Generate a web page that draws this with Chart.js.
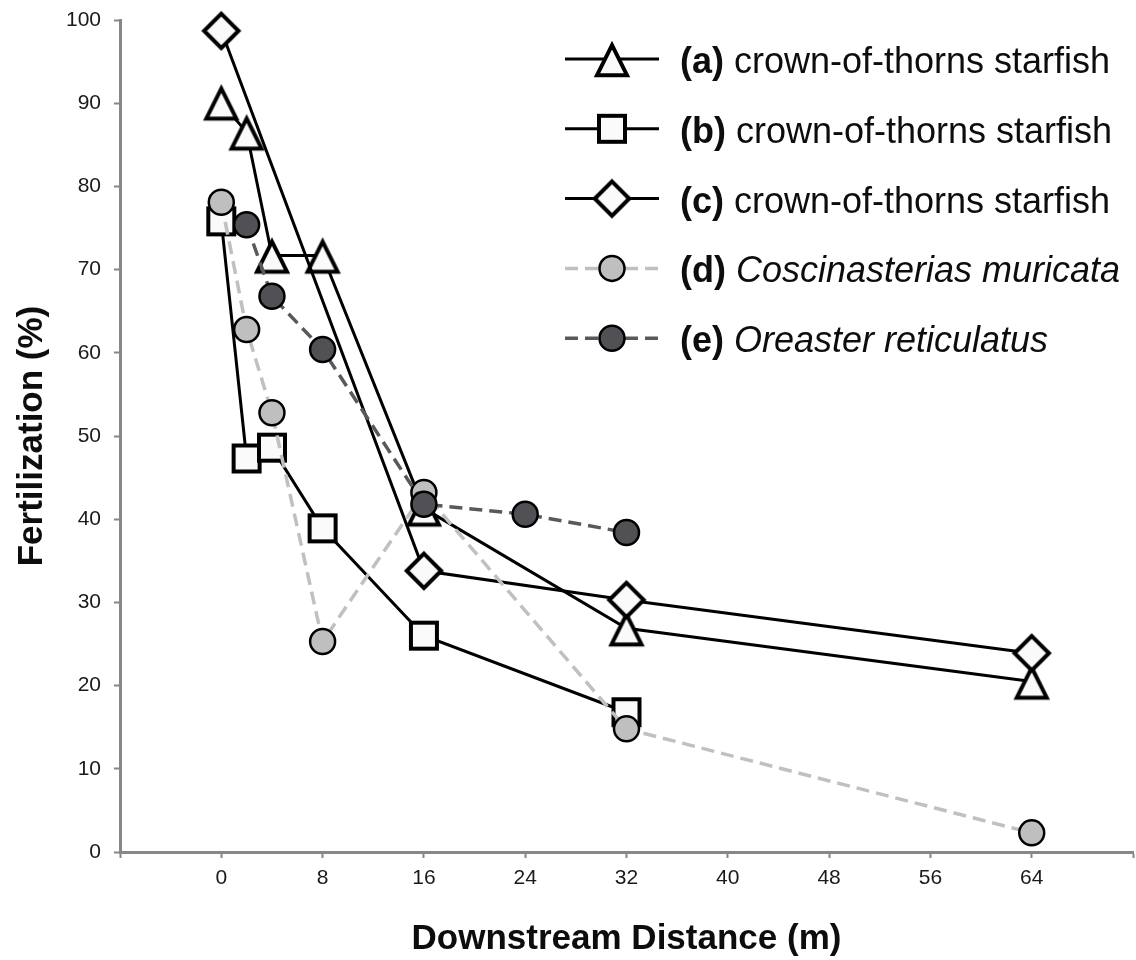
<!DOCTYPE html>
<html>
<head>
<meta charset="utf-8">
<title>Fertilization vs downstream distance</title>
<script src="https://cdn.jsdelivr.net/npm/chart.js@4.4.1/dist/chart.umd.min.js"></script>
<style>
  html, body { margin: 0; padding: 0; background: #ffffff; overflow: hidden; }
  #wrap { width: 1136px; height: 960px; }
  canvas { display: block; }
</style>
</head>
<body>
<div id="wrap"><canvas id="chart" width="1136" height="960"></canvas></div>
<script>
// Downstream distance (m) and fertilization (%) for each series
const distA = [0, 2, 4, 8, 16, 32, 64];
const fertA = [90.1, 86.5, 71.7, 71.7, 41.3, 26.9, 20.5];

const distB = [0, 2, 4, 8, 16, 32];
const fertB = [75.8, 47.3, 48.6, 38.9, 26.0, 16.8];

const distC = [0, 16, 32, 64];
const fertC = [98.7, 33.8, 30.3, 23.9];

const distD = [0, 2, 4, 8, 16, 32, 64];
const fertD = [78.1, 62.8, 52.8, 25.3, 43.2, 14.8, 2.3];

const distE = [2, 4, 8, 16, 24, 32];
const fertE = [75.4, 66.8, 60.4, 41.8, 40.6, 38.4];

// Series key text
const seriesTags  = ['(a)', '(b)', '(c)', '(d)', '(e)'];
const seriesNames = ['crown-of-thorns starfish', 'crown-of-thorns starfish', 'crown-of-thorns starfish',
                     'Coscinasterias muricata', 'Oreaster reticulatus'];

// Axis tick labels
const xTickLabels = [0, 8, 16, 24, 32, 40, 48, 56, 64];
const yTickLabels = [0, 10, 20, 30, 40, 50, 60, 70, 80, 90, 100];

const FONT = '"Liberation Sans", Arial, sans-serif';

function pairs(xs, ys) { return xs.map((x, i) => ({ x: x, y: ys[i] })); }

// Open markers with a heavy outline, drawn once and reused as point images
function makeMarker(kind) {
  const s = 48, c = document.createElement('canvas');
  c.width = s; c.height = s;
  const g = c.getContext('2d');
  const m = s / 2;
  g.lineWidth = 4;
  g.lineJoin = 'miter';
  g.strokeStyle = '#000000';
  g.fillStyle = '#fafafa';
  g.beginPath();
  if (kind === 'triangle') {
    g.moveTo(m, m - 13.8);
    g.lineTo(m + 15, m + 16.2);
    g.lineTo(m - 15, m + 16.2);
  } else if (kind === 'square') {
    g.rect(m - 13, m - 13, 26, 26);
  } else {
    const r = 17.2;
    g.moveTo(m, m - r);
    g.lineTo(m + r, m);
    g.lineTo(m, m + r);
    g.lineTo(m - r, m);
  }
  g.closePath();
  g.fill();
  g.stroke();
  return c;
}

const triMarker = makeMarker('triangle');
const sqMarker = makeMarker('square');
const diaMarker = makeMarker('diamond');

function solidSeries(xs, ys, marker, order, label) {
  return {
    label: label,
    data: pairs(xs, ys),
    borderColor: '#000000',
    borderWidth: 3,
    pointStyle: marker,
    pointRadius: 18,
    order: order,
    clip: false
  };
}

function dashedSeries(xs, ys, lineColor, fill, order, label) {
  return {
    label: label,
    data: pairs(xs, ys),
    borderColor: lineColor,
    borderWidth: 3.5,
    borderDash: [13, 7],
    pointStyle: 'circle',
    pointRadius: 12.5,
    pointBorderWidth: 2.5,
    pointBorderColor: '#000000',
    pointBackgroundColor: fill,
    italicName: true,
    order: order,
    clip: false
  };
}

const datasets = [
  solidSeries(distA, fertA, triMarker, 5, seriesTags[0] + ' ' + seriesNames[0]),
  solidSeries(distB, fertB, sqMarker, 4, seriesTags[1] + ' ' + seriesNames[1]),
  solidSeries(distC, fertC, diaMarker, 3, seriesTags[2] + ' ' + seriesNames[2]),
  dashedSeries(distD, fertD, '#c0c0c0', '#bfbfbf', 2, seriesTags[3] + ' ' + seriesNames[3]),
  dashedSeries(distE, fertE, '#58595d', '#505055', 1, seriesTags[4] + ' ' + seriesNames[4])
];

// Series key: line sample with its marker, bold tag, then the name
const seriesKey = {
  id: 'seriesKey',
  afterDraw(chart) {
    const ctx = chart.ctx;
    const x0 = 565, x1 = 659, xm = 612, tx = 680, top = 59, gap = 69.8;
    chart.data.datasets.forEach((ds, i) => {
      const y = top + gap * i;
      ctx.save();
      ctx.strokeStyle = ds.borderColor;
      ctx.lineWidth = ds.borderWidth;
      ctx.setLineDash(ds.borderDash || []);
      ctx.beginPath();
      ctx.moveTo(x0, y);
      ctx.lineTo(x1, y);
      ctx.stroke();
      ctx.setLineDash([]);
      if (ds.pointStyle instanceof HTMLCanvasElement) {
        const img = ds.pointStyle;
        ctx.drawImage(img, xm - img.width / 2, y - img.height / 2);
      } else {
        ctx.beginPath();
        ctx.arc(xm, y, ds.pointRadius, 0, Math.PI * 2);
        ctx.fillStyle = ds.pointBackgroundColor;
        ctx.fill();
        ctx.lineWidth = ds.pointBorderWidth;
        ctx.strokeStyle = ds.pointBorderColor;
        ctx.stroke();
      }
      ctx.fillStyle = '#0d0d0d';
      ctx.textAlign = 'left';
      ctx.textBaseline = 'middle';
      ctx.font = 'bold 36px ' + FONT;
      ctx.fillText(seriesTags[i], tx, y + 4);
      const w = ctx.measureText(seriesTags[i] + ' ').width;
      ctx.font = (ds.italicName ? 'italic ' : '') + '36px ' + FONT;
      ctx.fillText(seriesNames[i], tx + w, y + 4);
      ctx.restore();
    });
  }
};

const AXIS_GREY = '#878787';

// Fixed axis box sizes, without extra room for label overhang
function fixBox(size) {
  return (s) => {
    if (s.isHorizontal()) { s.height = size; } else { s.width = size; }
    s.paddingTop = 0; s.paddingBottom = 0; s.paddingLeft = 0; s.paddingRight = 0;
  };
}

new Chart(document.getElementById('chart'), {
  type: 'line',
  data: { datasets: datasets },
  plugins: [seriesKey],
  options: {
    responsive: false,
    animation: false,
    events: [],
    layout: { autoPadding: false, padding: { top: 20, right: 3, bottom: 0, left: 0 } },
    elements: { line: { tension: 0 } },
    plugins: {
      legend: { display: false },
      tooltip: { enabled: false }
    },
    scales: {
      x: {
        type: 'linear',
        min: -8,
        max: 72,
        afterFit: fixBox(108),
        ticks: {
          stepSize: 8,
          autoSkip: false,
          maxRotation: 0,
          padding: 8,
          color: '#1a1a1a',
          font: { family: FONT, size: 21 },
          callback: (v) => (xTickLabels.includes(v) ? String(v) : '')
        },
        grid: {
          drawOnChartArea: false,
          drawTicks: true,
          tickLength: 6,
          tickWidth: 2,
          tickColor: AXIS_GREY
        },
        border: { display: true, color: AXIS_GREY, width: 3 },
        title: {
          display: true,
          text: 'Downstream Distance (m)',
          color: '#0d0d0d',
          font: { family: FONT, size: 35, weight: 'bold' },
          padding: { top: 25, bottom: 0 }
        }
      },
      y: {
        type: 'linear',
        min: 0,
        max: 100,
        afterFit: fixBox(120),
        ticks: {
          stepSize: 10,
          autoSkip: false,
          padding: 13,
          color: '#1a1a1a',
          font: { family: FONT, size: 21 },
          callback: (v) => (yTickLabels.includes(v) ? String(v) : '')
        },
        grid: {
          drawOnChartArea: false,
          drawTicks: true,
          tickLength: 6,
          tickWidth: 2,
          tickColor: AXIS_GREY
        },
        border: { display: true, color: AXIS_GREY, width: 3 },
        title: {
          display: true,
          text: 'Fertilization (%)',
          color: '#0d0d0d',
          font: { family: FONT, size: 35, weight: 'bold' },
          padding: { top: 11, bottom: 0 }
        }
      }
    }
  }
});
</script>
</body>
</html>
